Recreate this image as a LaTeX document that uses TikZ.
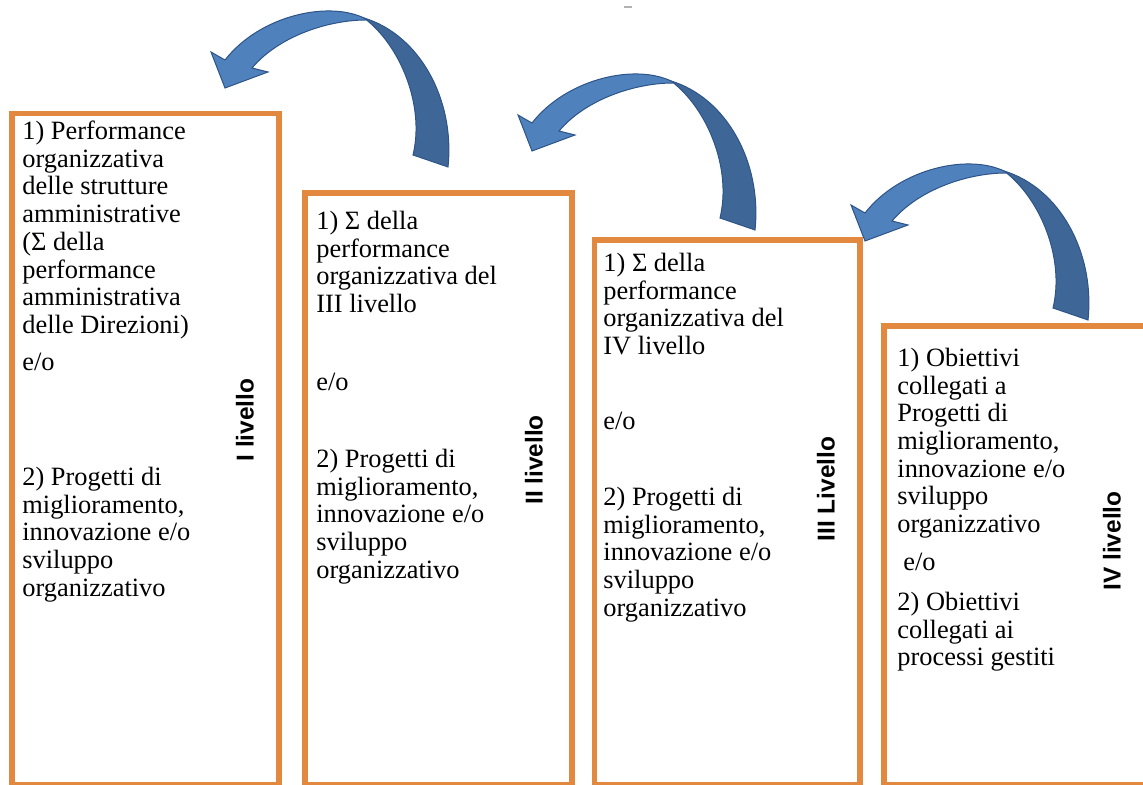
\documentclass[tikz,border=0pt]{standalone}
\usepackage{fontspec}
\setmainfont{Liberation Serif}
\newfontfamily\lvlfont{Liberation Sans}
\usetikzlibrary{calc}
\definecolor{boxorange}{HTML}{E2893F}
\definecolor{arrowlight}{HTML}{4F81BD}
\definecolor{arrowdark}{HTML}{3E6798}
\definecolor{arrowline}{HTML}{2E5487}
\tikzset{lvlbox/.style={draw=boxorange, line width=2.75pt}}
\tikzset{bodytext/.style={anchor=north west, inner sep=0, align=left, execute at begin node=\strut, font=\fontsize{13.2}{13.85}\selectfont}}
\tikzset{lvltext/.style={rotate=90, inner sep=0, font=\lvlfont\bfseries\fontsize{12.2}{14}\selectfont}}
\tikzset{pics/bendarrow/.style={code={
  \filldraw[fill=arrowdark, draw=arrowline, line width=0.5pt]
    (448,167) .. controls (455,100) and (420,35) .. (364,18)
    .. controls (400,45) and (425,105) .. (413,155) -- cycle;
  \filldraw[fill=arrowlight, draw=arrowline, line width=0.5pt]
    (366,19) .. controls (330,0) and (260,15) .. (225,60)
    -- (211,52) -- (225,88) -- (268,72) -- (252,68)
    .. controls (280,35) and (330,20) .. (366,20) -- cycle;
}}}

\begin{document}
\begin{tikzpicture}[x=0.5pt, y=-0.5pt]
\useasboundingbox (0,0) rectangle (1143,785);
\clip (0,0) rectangle (1143,785);

\draw[lvlbox] (12,113.5) rectangle (279,785);
\draw[lvlbox] (305,193) rectangle (572,785);
\draw[lvlbox] (594.5,240) rectangle (860,785);
\draw[lvlbox] (884,326) rectangle (1170,785);

\pic at (0,0) {bendarrow};
\pic at (307,63) {bendarrow};
\pic at (640,153) {bendarrow};
%\draw (0,0) rectangle (1143,785);
\draw[gray!60, line width=0.6pt] (624,7) -- (632,7);

\node[bodytext] (p1a) at (22,120.6) {1) Performance\\organizzativa\\delle strutture\\amministrative\\(Σ della\\performance\\amministrativa\\delle Direzioni)};
\node[bodytext] (p1o) at (22,350.6) {e/o};
\node[bodytext] (p1b) at (22,466.6) {2) Progetti di\\miglioramento,\\innovazione e/o\\sviluppo\\organizzativo};
\node[lvltext] (l1) at (245,420) {I livello};

\node[bodytext] (p2a) at (316,210.6) {1) Σ della\\performance\\organizzativa del\\III livello};
\node[bodytext] (p2o) at (316,370.6) {e/o};
\node[bodytext] (p2b) at (316,448.6) {2) Progetti di\\miglioramento,\\innovazione e/o\\sviluppo\\organizzativo};
\node[lvltext] (l2) at (534,460) {II livello};

\node[bodytext] (p3a) at (603,252.6) {1) Σ della\\performance\\organizzativa del\\IV livello};
\node[bodytext] (p3o) at (603,409.6) {e/o};
\node[bodytext] (p3b) at (603,486.6) {2) Progetti di\\miglioramento,\\innovazione e/o\\sviluppo\\organizzativo};
\node[lvltext] (l3) at (826,489) {III Livello};

\node[bodytext] (p4a) at (897,347.6) {1) Obiettivi\\collegati a\\Progetti di\\miglioramento,\\innovazione e/o\\sviluppo\\organizzativo};
\node[bodytext] (p4o) at (903,550.6) {e/o};
\node[bodytext] (p4b) at (897,591.6) {2) Obiettivi\\collegati ai\\processi gestiti};
\node[lvltext] (l4) at (1112,541) {IV livello};

\end{tikzpicture}
\end{document}
